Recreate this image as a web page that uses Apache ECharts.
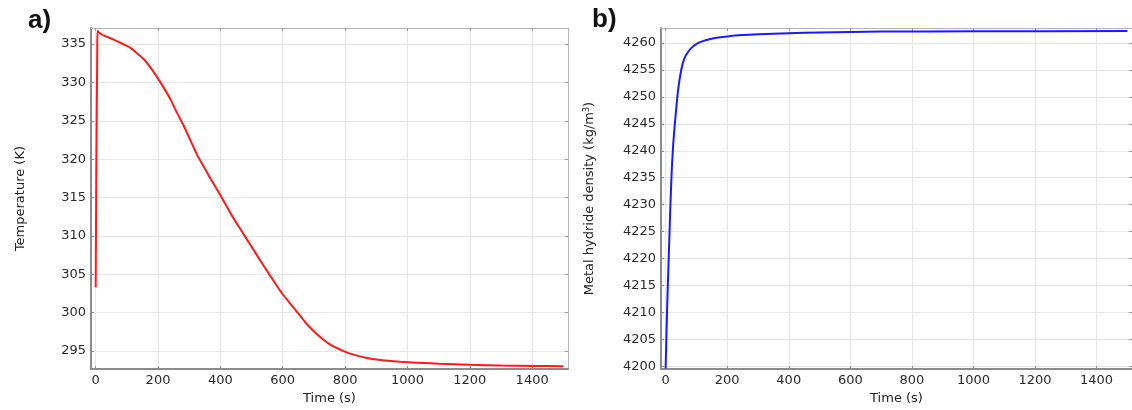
<!DOCTYPE html>
<html lang="en">
<head>
    <meta charset="UTF-8">
    <title>Temperature and metal hydride density</title>
    <script src="https://cdn.jsdelivr.net/npm/echarts@6/dist/echarts.min.js"></script>
</head>
<style>
    html,body{
        margin:0;
        padding:0;
        background:#fff;
    }
    #main{
        width:1132px;
        height:410px;
    }
</style>
<body>
    <div id="main"></div>
</body>
</html>

<script>
    // a) temperature vs time
    let timeA=[0,2,5,6,10,20,30,46,70,90,111,130,153,175,200,220,240,260,282,300,325,350,368,400,442,464,500,528,560,598,630,656,680,710,750,795,830,870,920,977,1050,1100,1200,1300,1400,1500];
    let tempA=[303.3,318,334,336.75,336.55,336.25,336.05,335.8,335.35,334.95,334.55,333.9,333.1,332.0,330.5,329.2,327.8,326.1,324.4,322.8,320.6,318.8,317.5,315.3,312.3,310.9,308.6,306.8,304.8,302.5,300.9,299.6,298.4,297.2,295.9,295.0,294.5,294.1,293.8,293.6,293.45,293.35,293.22,293.12,293.06,293.03];
    // b) metal hydride density vs time
    let timeB=[0,5,10,15,20,25,30,40,50,60,75,90,110,130,160,200,250,300,400,500,700,1000,1500];
    let densB=[4199.6,4211,4220,4229,4236.5,4241.5,4245,4251,4254.8,4257,4258.5,4259.4,4260.1,4260.5,4260.9,4261.2,4261.45,4261.6,4261.8,4261.95,4262.1,4262.15,4262.2];
    // tick labels
    let timeTicks=[0,200,400,600,800,1000,1200,1400];
    let tempTicks=[295,300,305,310,315,320,325,330,335];
    let densTicks=[4200,4205,4210,4215,4220,4225,4230,4235,4240,4245,4250,4255,4260];

    let font='DejaVu Sans';
    let gridColor='#e6e6e6';

    function pair(xs,ys){
        return xs.map(function(x,i){return [x,ys[i]];});
    }

    function mainAxis(pos,grid,min,max,ticks,name,extra){
        let ax={
            type:'value',
            gridIndex:grid,
            position:pos,
            min:min,
            max:max,
            name:name,
            nameLocation:'middle',
            nameTextStyle:{fontFamily:font,fontSize:13,color:'#222'},
            axisLine:{show:true,onZero:false,lineStyle:{color:'#8c8c8c',width:2}},
            axisTick:{show:true,inside:true,length:3,customValues:ticks,lineStyle:{color:'#8c8c8c'}},
            axisLabel:{
                customValues:ticks,fontFamily:font,fontSize:13,color:'#2a2a2a',margin:5,
                formatter:function(v){return String(v);}
            },
            splitLine:{show:true,lineStyle:{color:gridColor,width:1}}
        };
        return Object.assign(ax,extra||{});
    }

    function sideAxis(pos,grid,min,max,ticks){
        return {
            type:'value',
            gridIndex:grid,
            position:pos,
            min:min,
            max:max,
            axisLine:{show:true,onZero:false,lineStyle:{color:'#b5b5b5',width:1}},
            axisTick:{show:true,inside:true,length:3,customValues:ticks,lineStyle:{color:'#999'}},
            axisLabel:{show:false},
            splitLine:{show:false}
        };
    }

    let chart=echarts.init(document.getElementById('main'));
    chart.setOption({
        animation:false,
        backgroundColor:'#fff',
        title:[
            {text:'a)',left:28,top:8,padding:0,textStyle:{fontFamily:'Liberation Sans',fontSize:26,fontWeight:'bold',color:'#111'}},
            {text:'b)',left:592,top:7,padding:0,textStyle:{fontFamily:'Liberation Sans',fontSize:26,fontWeight:'bold',color:'#111'}}
        ],
        grid:[
            {left:91,top:28,width:477,height:350},
            {left:661,top:28,width:474,height:350}
        ],
        xAxis:[
            mainAxis('bottom',0,-15,1515,timeTicks,'Time (s)',{nameGap:19}),
            sideAxis('top',0,-15,1515,timeTicks),
            mainAxis('bottom',1,-15,1515,timeTicks,'Time (s)',{nameGap:19}),
            sideAxis('top',1,-15,1515,timeTicks)
        ],
        yAxis:[
            mainAxis('left',0,292.65,337.1,tempTicks,'Temperature (K)',{nameGap:64,nameRotate:90}),
            sideAxis('right',0,292.65,337.1,tempTicks),
            mainAxis('left',1,4199.5,4262.77,densTicks,'Metal hydride density (kg/m{sup|3})',{
                nameGap:64,
                nameRotate:90,
                nameTextStyle:{
                    fontFamily:font,fontSize:13,color:'#222',
                    rich:{sup:{fontFamily:font,fontSize:8,color:'#222',verticalAlign:'top',padding:[0,0,6,0]}}
                }
            }),
            sideAxis('right',1,4199.5,4262.77,densTicks)
        ],
        series:[
            {
                name:'Temperature',
                type:'line',
                xAxisIndex:0,
                yAxisIndex:0,
                data:pair(timeA,tempA),
                showSymbol:false,
                smooth:0.2,
                lineStyle:{color:'#ff1a1a',width:2}
            },
            {
                name:'Density',
                type:'line',
                xAxisIndex:2,
                yAxisIndex:2,
                data:pair(timeB,densB),
                showSymbol:false,
                smooth:0.2,
                lineStyle:{color:'#1a1aff',width:2}
            }
        ]
    });
</script>
